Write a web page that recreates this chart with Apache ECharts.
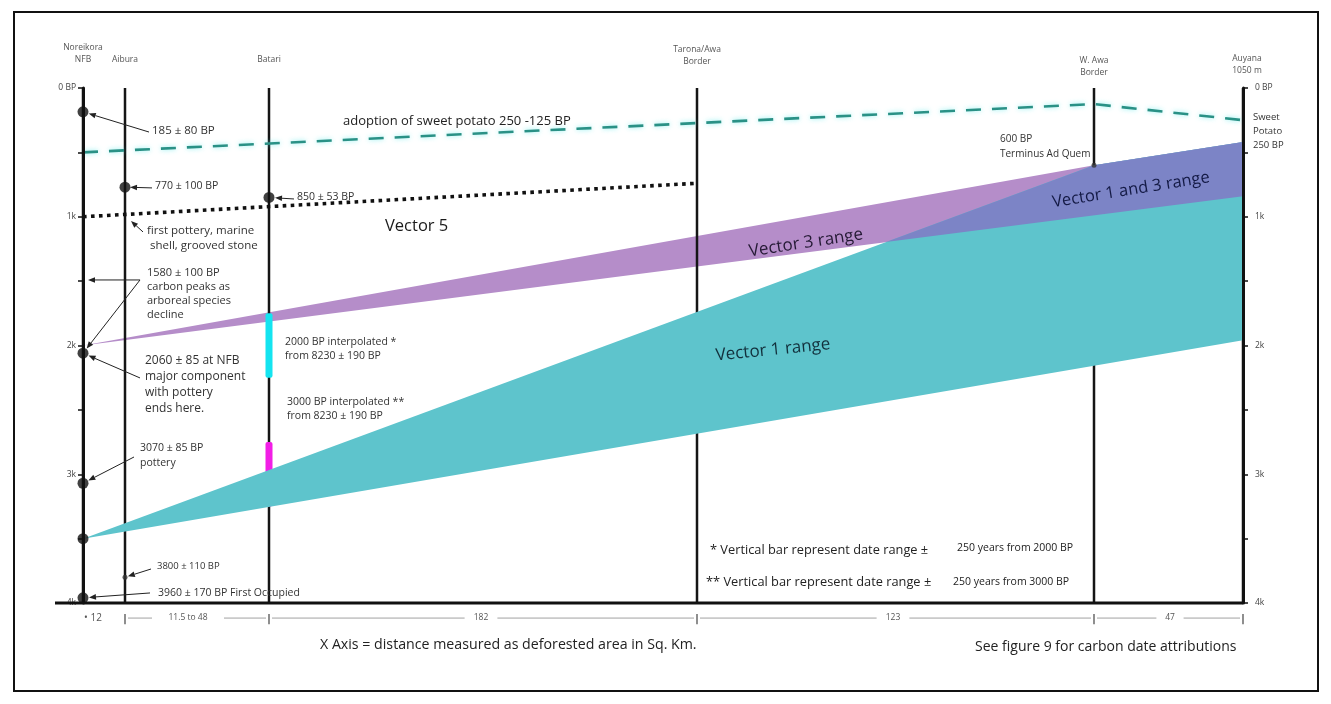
<!DOCTYPE html>
<html>
<head>
<meta charset="utf-8">
<script src="https://cdn.jsdelivr.net/npm/echarts@6/dist/echarts.min.js"></script>
<style>
html,body{margin:0;padding:0;background:#fff}
#chart{width:1331px;height:704px}
</style>
</head>
<body>
<div id="chart"></div>
<script>
// ---- Sites along the transect (plot units, west to east) ----
const siteNames = ['Noreikora\nNFB', 'Aibura', 'Batari', 'Tarona/Awa\nBorder', 'W. Awa\nBorder', 'Auyana\n1050 m'];
const siteX = [0, 42, 186, 614, 1011, 1160];

// ---- Age axis, years BP ----
const ageTicks = [0, 500, 1000, 1500, 2000, 2500, 3000, 3500, 4000];
const ageTickLabels = ['0 BP', '', '1k', '', '2k', '', '3k', '', '4k'];

// ---- Distances between sites, sq. km ----
const segmentLabels = ['\u2022 12', '11.5 to 48', '182', '123', '47'];
const segmentLabelX = [10, 105, 398, 810, 1087];

// ---- Dated points [x, years BP] ----
const datedPoints = [[0, 185], [42, 770], [186, 850], [0, 2060], [0, 3070], [0, 3500], [0, 3960]];
const minorPoints = [[42, 3800], [1011, 600]];

// ---- Lines [x, years BP] ----
const sweetPotato = [[0, 500], [1011, 125], [1160, 250]];
const vector5 = [[0, 1000], [614, 740]];

// ---- Range polygons [x, years BP] ----
const vector3Range = [[0, 2000], [1011, 600], [1160, 420], [1160, 840]];
const vector1Range = [[0, 3500], [1011, 600], [1160, 420], [1160, 1960]];
const vector13Range = [[803, 1197], [1011, 600], [1160, 420], [1160, 840]];

// ---- Interpolated date bars at Batari [x, from BP, to BP] ----
const dateBars = [[186, 1750, 2250], [186, 2750, 3250]];
const dateBarColors = ['#14e4f0', '#f21ee6'];

const FONT = '"Open Sans", "Noto Sans", sans-serif';
const chart = echarts.init(document.getElementById('chart'));

function polygonSeries(points, color, z) {
  return {
    type: 'custom', z: z, silent: true,
    data: points,
    renderItem: function (params, api) {
      if (params.dataIndex !== 0) return null;
      return {
        type: 'polygon',
        shape: { points: points.map(function (p) { return api.coord(p); }) },
        style: { fill: color }
      };
    }
  };
}

function ageAxis(pos) {
  return {
    type: 'value', inverse: true, min: 0, max: 4000, interval: 500,
    position: pos, z: 10,
    axisLine: { show: true, onZero: false, lineStyle: { color: '#111', width: 3 } },
    axisTick: { show: true, length: 5, lineStyle: { color: '#111', width: 1.5 } },
    axisLabel: {
      formatter: function (v) { const i = ageTicks.indexOf(v); return i >= 0 ? ageTickLabels[i] : ''; },
      fontSize: 8.5, color: '#444', margin: pos === 'left' ? 7 : 12, fontFamily: FONT
    },
    splitLine: { show: false }
  };
}

chart.setOption({
  animation: false,
  backgroundColor: '#fff',
  grid: { left: 83, right: 88, top: 88, bottom: 101 },
  xAxis: { type: 'value', min: 0, max: 1160, show: false },
  yAxis: [ageAxis('left'), ageAxis('right')],
  series: [
    polygonSeries(vector3Range, '#b58dc9', 1),
    {
      // site verticals
      type: 'custom', z: 2, silent: true,
      data: siteX.map(function (x) { return [x, 0]; }),
      renderItem: function (params, api) {
        const a = api.coord([api.value(0), 0]);
        const b = api.coord([api.value(0), 4000]);
        return { type: 'line', shape: { x1: a[0], y1: a[1], x2: b[0], y2: b[1] },
                 style: { stroke: '#151515', lineWidth: 2.5 } };
      }
    },
    {
      // +/- 250 year bars
      type: 'custom', z: 3, silent: true,
      data: dateBars,
      renderItem: function (params, api) {
        const a = api.coord([api.value(0), api.value(1)]);
        const b = api.coord([api.value(0), api.value(2)]);
        return { type: 'rect', shape: { x: a[0] - 3.5, y: a[1], width: 7, height: b[1] - a[1], r: 2 },
                 style: { fill: dateBarColors[params.dataIndex] } };
      }
    },
    polygonSeries(vector1Range, '#5ec4cc', 4),
    polygonSeries(vector13Range, '#7c84c6', 5),
    {
      type: 'line', z: 6, silent: true, data: sweetPotato, showSymbol: false,
      lineStyle: { color: '#2a9186', width: 2.6, type: [15, 11],
                   shadowColor: 'rgba(60,230,230,0.6)', shadowBlur: 5 }
    },
    {
      type: 'line', z: 6, silent: true, data: vector5, showSymbol: false,
      lineStyle: { color: '#111', width: 3.6, type: [3.6, 4.4] }
    },
    {
      type: 'scatter', z: 8, silent: true, data: datedPoints, symbolSize: 11,
      itemStyle: { color: '#111' }
    },
    {
      type: 'scatter', z: 8, silent: true, data: minorPoints, symbolSize: 5,
      itemStyle: { color: '#333' }
    }
  ]
});

// ---- annotations, positioned in data coordinates ----
const P = function (p) { return chart.convertToPixel({ xAxisIndex: 0, yAxisIndex: 0 }, p); };
const els = [];

function text(pos, str, o) {
  o = o || {};
  const p = P(pos);
  els.push({
    type: 'text', x: p[0], y: p[1], z: 30, rotation: o.rot || 0, silent: true,
    style: {
      text: str, fill: o.color || '#333', fontSize: o.size || 10, fontFamily: FONT,
      fontWeight: o.weight || 'normal',
      align: o.align || 'left', verticalAlign: o.va || 'middle', lineHeight: o.lh || undefined
    }
  });
}

function arrow(from, to, gap) {
  const a = P(from), b = P(to);
  const dx = b[0] - a[0], dy = b[1] - a[1];
  const L = Math.hypot(dx, dy), ux = dx / L, uy = dy / L;
  const ex = b[0] - ux * (gap || 0), ey = b[1] - uy * (gap || 0);
  const h = 7, w = 2.8;
  const bx = ex - ux * h, by = ey - uy * h;
  els.push({ type: 'line', z: 30, silent: true, shape: { x1: a[0], y1: a[1], x2: bx, y2: by },
             style: { stroke: '#222', lineWidth: 1 } });
  els.push({ type: 'polygon', z: 30, silent: true,
             shape: { points: [[ex, ey], [bx - uy * w, by + ux * w], [bx + uy * w, by - ux * w]] },
             style: { fill: '#222' } });
}

// frame
els.push({ type: 'rect', z: 1, silent: true, shape: { x: 14, y: 12, width: 1304, height: 679 },
           style: { fill: 'none', stroke: '#111', lineWidth: 2 } });

// baseline
(function () {
  const a = P([-28, 4000]), b = P([1160, 4000]);
  els.push({ type: 'line', z: 20, silent: true, shape: { x1: a[0], y1: a[1], x2: b[0], y2: b[1] },
             style: { stroke: '#111', lineWidth: 3 } });
})();

// site headers
const headerBottom = [-171, -171, -171, -155, -70, -85];
const headerShift = [0, 0, 0, 0, 0, 4];
siteNames.forEach(function (n, i) {
  text([siteX[i] + headerShift[i], headerBottom[i]], n, { size: 8.5, color: '#555', align: 'center', va: 'bottom', lh: 12 });
});

// distance row
const rowBP = 4117;
siteX.slice(1).forEach(function (x) {
  const a = P([x, 4085]), b = P([x, 4165]);
  els.push({ type: 'line', z: 20, silent: true, shape: { x1: a[0], y1: a[1], x2: b[0], y2: b[1] },
             style: { stroke: '#444', lineWidth: 1.2 } });
});
segmentLabels.forEach(function (s, i) {
  text([segmentLabelX[i], rowBP], s, { size: i === 0 ? 10 : 8.5, color: '#555', align: 'center' });
  if (i === 0) return;
  const half = s.length * 2.8 + 8;
  const pl = P([siteX[i] + 3, rowBP]), pr = P([siteX[i + 1] - 3, rowBP]), pc = P([segmentLabelX[i], rowBP]);
  els.push({ type: 'line', z: 20, silent: true, shape: { x1: pl[0], y1: pl[1], x2: pc[0] - half, y2: pl[1] },
             style: { stroke: '#888', lineWidth: 0.8 } });
  els.push({ type: 'line', z: 20, silent: true, shape: { x1: pc[0] + half, y1: pl[1], x2: pr[0], y2: pr[1] },
             style: { stroke: '#888', lineWidth: 0.8 } });
});

// dated point annotations
text([69, 334], '185 \u00b1 80 BP', { size: 11.5 });
arrow([66, 342], [0, 185], 6);
text([72, 761], '770 \u00b1 100 BP', { size: 10.5 });
arrow([69, 776], [42, 770], 5);
text([214, 847], '850 \u00b1 53 BP', { size: 10.5 });
arrow([211, 862], [186, 850], 6);
text([302, 1072], 'Vector 5', { size: 16.5, color: '#1a1a1a' });
text([64, 1052], 'first pottery, marine\n shell, grooved stone', { va: 'top', lh: 15, size: 11.5 });
arrow([60, 1118], [48, 1033], 0);
text([64, 1380], '1580 \u00b1 100 BP\ncarbon peaks as\narboreal species\ndecline', { va: 'top', lh: 14, size: 11 });
arrow([57, 1491], [5, 1491], 0);
arrow([57, 1491], [0, 2060], 6);
text([62, 2052], '2060 \u00b1 85 at NFB\nmajor component\nwith pottery\nends here.', { va: 'top', lh: 16, size: 12 });
arrow([57, 2252], [0, 2060], 6);
text([202, 1922], '2000 BP interpolated *\nfrom 8230 \u00b1 190 BP', { va: 'top', lh: 14, size: 10.5 });
text([204, 2388], '3000 BP interpolated **\nfrom 8230 \u00b1 190 BP', { va: 'top', lh: 14, size: 10.5 });
text([57, 2738], '3070 \u00b1 85 BP\npottery', { va: 'top', lh: 15, size: 10.5 });
arrow([51, 2866], [0, 3070], 6);
text([74, 3713], '3800 \u00b1 110 BP', { size: 9.5 });
arrow([68, 3736], [42, 3800], 3);
text([75, 3922], '3960 \u00b1 170 BP First Occupied', { size: 10.5 });
arrow([67, 3922], [0, 3960], 6);

// line and range labels
text([260, 256], 'adoption of sweet potato 250 -125 BP', { size: 13, color: '#222' });
text([917, 338], '600 BP\nTerminus Ad Quem', { va: 'top', lh: 15, size: 10 });
text([1170, 176], 'Sweet\nPotato\n250 BP', { va: 'top', lh: 14, size: 9.5 });
text([723, 1204], 'Vector 3 range', { size: 17, align: 'center', rot: 0.15, color: '#251a35' });
text([1048, 792], 'Vector 1 and 3 range', { size: 16.5, align: 'center', rot: 0.16, color: '#141a45' });
text([690, 2035], 'Vector 1 range', { size: 17, align: 'center', rot: 0.1, color: '#12303c' });

// footnotes
text([627, 3588], '* Vertical bar represent date range \u00b1', { size: 12.8, color: '#222' });
text([874, 3572], '250 years from 2000 BP', { size: 10.5, color: '#222' });
text([623, 3837], '** Vertical bar represent date range \u00b1', { size: 12.8, color: '#222' });
text([870, 3837], '250 years from 3000 BP', { size: 10.5, color: '#222' });
text([237, 4326], 'X Axis = distance measured as deforested area in Sq. Km.', { size: 14.2, color: '#222' });
text([892, 4342], 'See figure 9 for carbon date attributions', { size: 14, color: '#222' });

chart.setOption({ graphic: { elements: els } });
</script>
</body>
</html>
